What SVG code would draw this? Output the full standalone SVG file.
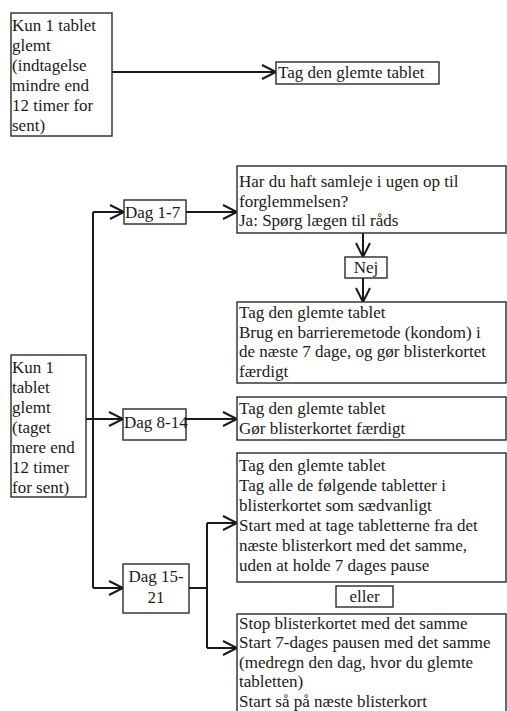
<svg xmlns="http://www.w3.org/2000/svg" width="507" height="711" viewBox="0 0 507 711">
<defs>
<marker id="arr" markerUnits="userSpaceOnUse" markerWidth="18" markerHeight="18" refX="15" refY="8" orient="auto">
<path d="M1,1 L15,8 L1,15" fill="none" stroke="#1a1a1a" stroke-width="2"/>
</marker>
</defs>
<style>
.box{fill:#fff;stroke:#2a2a2a;stroke-width:1.4}
.t{font-family:"Liberation Serif","Times New Roman",serif;font-size:17px;fill:#1a1a1a}
.c{text-anchor:middle}
.ln{fill:none;stroke:#1a1a1a;stroke-width:2}
.ar{fill:none;stroke:#1a1a1a;stroke-width:2;marker-end:url(#arr)}
</style>
<rect width="507" height="711" fill="#fff"/>
<g id="connectors">
<path class="ar" d="M112,72 H276"/>
<path class="ln" d="M93,212 V588"/>
<path class="ar" d="M93,212 H124"/>
<path class="ar" d="M186,212 H237"/>
<path class="ar" d="M363,233 V257"/>
<path class="ar" d="M363,278 V302"/>
<path class="ar" d="M86,419 H123"/>
<path class="ar" d="M186,419 H237"/>
<path class="ar" d="M93,588 H123"/>
<path class="ln" d="M189,588 H207 M207,523 V648"/>
<path class="ar" d="M207,523 H237"/>
<path class="ar" d="M207,648 H237"/>
</g>
<g id="n1">
<rect class="box" x="11" y="13" width="101" height="123"/>
<text class="t" x="12" y="31">Kun 1 tablet</text>
<text class="t" x="12" y="51">glemt</text>
<text class="t" x="12" y="71">(indtagelse</text>
<text class="t" x="12" y="91">mindre end</text>
<text class="t" x="12" y="111">12 timer for</text>
<text class="t" x="12" y="131">sent)</text>
</g>
<g id="n2">
<rect class="box" x="276" y="62" width="163" height="22"/>
<text class="t" x="278" y="78">Tag den glemte tablet</text>
</g>
<g id="n3">
<rect class="box" x="11" y="355" width="75" height="142"/>
<text class="t" x="12" y="373">Kun 1</text>
<text class="t" x="12" y="393">tablet</text>
<text class="t" x="12" y="413">glemt</text>
<text class="t" x="12" y="433">(taget</text>
<text class="t" x="12" y="453">mere end</text>
<text class="t" x="12" y="473">12 timer</text>
<text class="t" x="12" y="493">for sent)</text>
</g>
<g id="n4">
<rect class="box" x="124" y="200" width="62" height="24"/>
<text class="t" x="125" y="218">Dag 1-7</text>
</g>
<g id="n5">
<rect class="box" x="237" y="166" width="269" height="67"/>
<text class="t" x="239" y="187">Har du haft samleje i ugen op til</text>
<text class="t" x="239" y="207">forglemmelsen?</text>
<text class="t" x="239" y="226">Ja: Spørg lægen til råds</text>
</g>
<g id="n6">
<rect class="box" x="345" y="257" width="42" height="21"/>
<text class="t c" x="366" y="273">Nej</text>
</g>
<g id="n7">
<rect class="box" x="237" y="302" width="269" height="81"/>
<text class="t" x="239" y="318">Tag den glemte tablet</text>
<text class="t" x="239" y="338">Brug en barrieremetode (kondom) i</text>
<text class="t" x="239" y="357">de næste 7 dage, og gør blisterkortet</text>
<text class="t" x="239" y="377">færdigt</text>
</g>
<g id="n8">
<rect class="box" x="123" y="409" width="63" height="31"/>
<text class="t" x="124" y="428">Dag 8-14</text>
</g>
<g id="n9">
<rect class="box" x="237" y="397" width="269" height="43"/>
<text class="t" x="239" y="414">Tag den glemte tablet</text>
<text class="t" x="239" y="434">Gør blisterkortet færdigt</text>
</g>
<g id="n10">
<rect class="box" x="123" y="564" width="66" height="49"/>
<text class="t c" x="156" y="582">Dag 15-</text>
<text class="t c" x="156" y="603">21</text>
</g>
<g id="n11">
<rect class="box" x="237" y="453" width="269" height="129"/>
<text class="t" x="239" y="471">Tag den glemte tablet</text>
<text class="t" x="239" y="491">Tag alle de følgende tabletter i</text>
<text class="t" x="239" y="511">blisterkortet som sædvanligt</text>
<text class="t" x="239" y="531">Start med at tage tabletterne fra det</text>
<text class="t" x="239" y="551">næste blisterkort med det samme,</text>
<text class="t" x="239" y="571">uden at holde 7 dages pause</text>
</g>
<g id="n12">
<rect class="box" x="336" y="586" width="57" height="21"/>
<text class="t c" x="364.5" y="602">eller</text>
</g>
<g id="n13">
<rect class="box" x="237" y="614" width="269" height="110"/>
<text class="t" x="239" y="629">Stop blisterkortet med det samme</text>
<text class="t" x="239" y="648">Start 7-dages pausen med det samme</text>
<text class="t" x="239" y="668">(medregn den dag, hvor du glemte</text>
<text class="t" x="239" y="687">tabletten)</text>
<text class="t" x="239" y="707">Start så på næste blisterkort</text>
</g>
</svg>
